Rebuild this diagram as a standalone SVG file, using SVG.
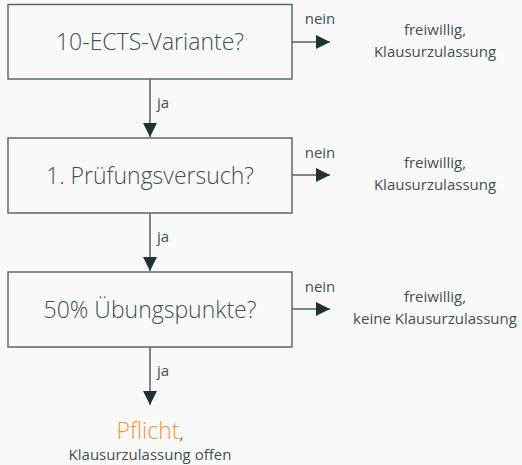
<svg xmlns="http://www.w3.org/2000/svg" width="522" height="465" viewBox="0 0 522 465">
<style>
.box{fill:none;stroke:#5b6b6b;stroke-width:1.5}
.lbl{font-family:"Open Sans","Liberation Sans",sans-serif;font-weight:300;fill:#3e5153;text-anchor:middle}
.main{font-size:23px}
.small{font-size:15px;font-weight:400}
.edge{fill:none;stroke:#4f5f60;stroke-width:1.5}
.head{fill:#1f3336}
</style>
<defs>
<marker id="ah" viewBox="0 0 14 14" refX="14" refY="7" markerWidth="14" markerHeight="14" markerUnits="userSpaceOnUse" orient="auto"><path class="head" d="M0,0 L14,7 L0,14 Z"/></marker>
</defs>
<rect width="522" height="465" fill="#f9f9f9"/>
<g id="connectors">
<line class="edge" x1="150" y1="79" x2="150" y2="137" marker-end="url(#ah)"/>
<line class="edge" x1="150" y1="213" x2="150" y2="271" marker-end="url(#ah)"/>
<line class="edge" x1="150" y1="347" x2="150" y2="405" marker-end="url(#ah)"/>
<line class="edge" x1="292" y1="42" x2="330" y2="42" marker-end="url(#ah)"/>
<line class="edge" x1="292" y1="175" x2="330" y2="175" marker-end="url(#ah)"/>
<line class="edge" x1="292" y1="309" x2="330" y2="309" marker-end="url(#ah)"/>
<text class="lbl small" x="157" y="108" style="text-anchor:start">ja</text>
<text class="lbl small" x="157" y="242" style="text-anchor:start">ja</text>
<text class="lbl small" x="157" y="376" style="text-anchor:start">ja</text>
<text class="lbl small" x="320" y="24">nein</text>
<text class="lbl small" x="320" y="158">nein</text>
<text class="lbl small" x="320" y="292">nein</text>
</g>
<g id="n1">
<rect class="box" x="8" y="4.5" width="284" height="74.5"/>
<text class="lbl main" x="150" y="50">10-ECTS-Variante?</text>
</g>
<g id="n2">
<rect class="box" x="8" y="138" width="284" height="75"/>
<text class="lbl main" x="150" y="184">1. Prüfungsversuch?</text>
</g>
<g id="n3">
<rect class="box" x="8" y="272" width="284" height="75"/>
<text class="lbl main" x="150" y="318">50% Übungspunkte?</text>
</g>
<g id="r1">
<text class="lbl small" x="435" y="35">freiwillig,</text>
<text class="lbl small" x="435" y="57">Klausurzulassung</text>
</g>
<g id="r2">
<text class="lbl small" x="435" y="168">freiwillig,</text>
<text class="lbl small" x="435" y="190">Klausurzulassung</text>
</g>
<g id="r3">
<text class="lbl small" x="435" y="302">freiwillig,</text>
<text class="lbl small" x="435" y="324">keine Klausurzulassung</text>
</g>
<g id="result">
<text class="lbl" x="150" y="439" style="font-size:23px"><tspan fill="#f0943a">Pflicht</tspan><tspan style="font-size:15px;font-weight:400">,</tspan></text>
<text class="lbl small" x="150" y="460">Klausurzulassung offen</text>
</g>
</svg>
